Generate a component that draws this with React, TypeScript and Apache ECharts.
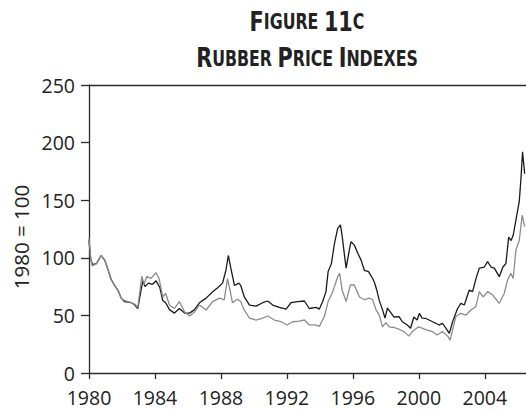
import React, { useEffect, useRef } from "react";
import * as echarts from "echarts";

const xTickYears = [1980, 1984, 1988, 1992, 1996, 2000, 2004];
const yTicks = [0, 50, 100, 150, 200, 250];

const blackYears = [
  1980.0, 1980.1, 1980.2, 1980.45, 1980.74, 1980.95, 1981.1, 1981.35, 1981.55, 1981.75,
  1981.95, 1982.15, 1982.55, 1982.75, 1982.96, 1983.26, 1983.4, 1983.6, 1983.85, 1984.07,
  1984.3, 1984.47, 1984.65, 1984.88, 1985.18, 1985.48, 1985.8, 1986.1, 1986.4, 1986.7,
  1987.1, 1987.5, 1987.8, 1988.1, 1988.3, 1988.45, 1988.6, 1988.82, 1989.08, 1989.2,
  1989.42, 1989.73, 1990.13, 1990.53, 1990.84, 1991.14, 1991.55, 1991.95, 1992.25, 1992.65,
  1993.06, 1993.36, 1993.77, 1993.97, 1994.17, 1994.37, 1994.5, 1994.7, 1994.88, 1995.08,
  1995.25, 1995.35, 1995.59, 1995.79, 1995.89, 1996.09, 1996.3, 1996.5, 1996.7, 1996.95,
  1997.2, 1997.3, 1997.45, 1997.6, 1997.8, 1997.95, 1998.1, 1998.3, 1998.5, 1998.8, 1999.0,
  1999.3, 1999.5, 1999.7, 1999.9, 2000.03, 2000.2, 2000.4, 2000.84, 2001.24, 2001.44,
  2001.65, 2001.85, 2002.05, 2002.35, 2002.55, 2002.76, 2003.06, 2003.26, 2003.5, 2003.67,
  2003.97, 2004.17, 2004.38, 2004.58, 2004.88, 2005.1, 2005.28, 2005.45, 2005.6, 2005.73,
  2005.89, 2006.09, 2006.2, 2006.29, 2006.42,
];
const blackValues = [
  115, 100, 94, 95, 102, 98, 92, 81, 76, 72,
  65, 62, 61, 59.5, 56, 80, 75, 78, 77, 80,
  74, 63, 61, 55, 52, 56, 52, 52, 55, 61,
  65, 70.6, 74, 78, 89, 102, 91, 76, 78, 76,
  66, 59, 58, 61, 62.5, 59, 57, 55.5, 61, 62,
  62.5, 56, 57, 55.5, 62, 70.6, 88, 95, 112, 125.6,
  128.5, 119, 91, 107, 114, 111, 104, 98, 89, 88,
  82, 79, 72, 63, 55, 47.6, 56.4, 52.5, 48.6, 49, 44.5,
  41.7, 38.8, 48.6, 46, 51.8, 47.6, 47.5, 44.5, 41.7, 43,
  38.8, 34.4, 44.5, 56, 60.5, 59, 72, 70.6, 83.6, 91,
  92, 96.6, 92, 91, 83.6, 92, 95, 118, 115, 120,
  133, 148.7, 170, 192, 173,
];

const grayYears = [
  1980.0, 1980.1, 1980.2, 1980.45, 1980.74, 1980.95, 1981.1, 1981.35, 1981.55, 1981.75,
  1981.95, 1982.15, 1982.55, 1982.75, 1982.96, 1983.2, 1983.35, 1983.5, 1983.75, 1984.07,
  1984.25, 1984.47, 1984.65, 1984.88, 1985.18, 1985.48, 1985.8, 1986.1, 1986.4, 1986.7,
  1987.1, 1987.5, 1987.9, 1988.2, 1988.4, 1988.55, 1988.7, 1989.0, 1989.2, 1989.4,
  1989.73, 1990.13, 1990.53, 1990.84, 1991.24, 1991.65, 1992.0, 1992.35, 1992.75, 1993.06,
  1993.36, 1993.7, 1993.97, 1994.27, 1994.5, 1994.78, 1995.08, 1995.2, 1995.35, 1995.59,
  1995.85, 1996.09, 1996.4, 1996.7, 1997.0, 1997.2, 1997.4, 1997.6, 1997.8, 1998.0,
  1998.2, 1998.5, 1998.8, 1999.1, 1999.4, 1999.6, 1999.97, 2000.2, 2000.4, 2000.84,
  2001.1, 2001.44, 2001.75, 2001.9, 2002.05, 2002.25, 2002.55, 2002.86, 2003.16, 2003.46,
  2003.67, 2003.9, 2004.17, 2004.48, 2004.88, 2005.18, 2005.38, 2005.58, 2005.72, 2005.89,
  2006.09, 2006.27, 2006.42,
];
const grayValues = [
  117, 100, 93, 95, 102, 98, 92, 81, 76, 72,
  65, 63, 61, 60, 57, 84, 77, 84, 82, 87,
  82, 66, 69, 59, 56, 62, 53, 49.5, 53, 59,
  54.7, 62, 65, 63.5, 82, 72, 61, 64, 62, 55,
  47.6, 46, 47.6, 49.5, 46, 44.5, 41.7, 44.5, 45, 46,
  41.7, 41.7, 40.5, 49, 62, 70.6, 83.6, 86.5, 72, 62,
  76.4, 76.4, 66, 63.6, 65, 63.6, 55, 50.3, 40, 43.7,
  40, 39.5, 38, 35.9, 32, 36, 40, 39, 37.7, 35.9,
  33, 35.9, 32, 28.6, 37.7, 49, 51.8, 50.3, 54.7, 57.6,
  70.6, 66, 70.6, 67.7, 60.5, 69, 80.7, 86.5, 82, 106.8,
  115, 137, 127,
];

const titleLine1 = "{b|F}{s|IGURE }{b|11}{s|C}";
const titleLine2 = "{b|R}{s|UBBER }{b|P}{s|RICE }{b|I}{s|NDEXES}";
const yAxisTitle = "1980 = 100";

const X_MIN = 1980;
const X_MAX = 2006.5;

export default function App() {
  const ref = useRef<HTMLDivElement>(null);
  useEffect(() => {
    if (!ref.current) return;
    const chart = echarts.init(ref.current, null, { renderer: "svg" });
    const labelFont = { fontFamily: "Open Sans", fontSize: 19.5, color: "#222" };
    const axisColor = "#2a2a2a";
    const titleRich = {
      b: { fontFamily: "DejaVu Sans", fontWeight: "bold", fontSize: 27, fill: "#222" },
      s: { fontFamily: "DejaVu Sans", fontWeight: "bold", fontSize: 20.5, fill: "#222" },
    };
    chart.setOption({
      animation: false,
      backgroundColor: "#fff",
      grid: { left: 89, right: 0, top: 85, bottom: 38, containLabel: false },
      xAxis: [
        {
          type: "value",
          min: X_MIN,
          max: X_MAX,
          interval: 4,
          axisLine: { show: true, onZero: false, lineStyle: { color: axisColor, width: 1.3 } },
          axisTick: { show: true, inside: false, length: 6, customValues: xTickYears, lineStyle: { color: axisColor, width: 1.3 } },
          axisLabel: { ...labelFont, margin: 14, customValues: xTickYears, formatter: (v: number) => String(v) },
          splitLine: { show: false },
        },
        {
          type: "value",
          position: "top",
          min: X_MIN,
          max: X_MAX,
          axisLine: { show: true, onZero: false, lineStyle: { color: axisColor, width: 1.3 } },
          axisTick: { show: false },
          axisLabel: { show: false },
          splitLine: { show: false },
        },
      ],
      yAxis: {
        type: "value",
        min: 0,
        max: 250,
        interval: 50,
        axisLine: { show: true, onZero: false, lineStyle: { color: axisColor, width: 1.3 } },
        axisTick: { show: true, inside: false, length: 8, lineStyle: { color: axisColor, width: 1.3 } },
        axisLabel: { ...labelFont, margin: 14, customValues: yTicks },
        splitLine: { show: false },
      },
      series: [
        {
          type: "line",
          name: "Black",
          showSymbol: false,
          data: blackYears.map((y, i) => [y, blackValues[i]]),
          lineStyle: { color: "#1a1a1a", width: 1.3 },
          itemStyle: { color: "#1a1a1a" },
        },
        {
          type: "line",
          name: "Gray",
          showSymbol: false,
          data: grayYears.map((y, i) => [y, grayValues[i]]),
          lineStyle: { color: "#8c8c8c", width: 1.3 },
          itemStyle: { color: "#8c8c8c" },
        },
      ],
      graphic: [
        {
          type: "text",
          x: 307,
          y: 22,
          scaleX: 0.77,
          style: { text: titleLine1, rich: titleRich, align: "center", verticalAlign: "middle" },
        },
        {
          type: "text",
          x: 307,
          y: 58.5,
          scaleX: 0.77,
          style: { text: titleLine2, rich: titleRich, align: "center", verticalAlign: "middle" },
        },
        {
          type: "text",
          x: 21,
          y: 237,
          rotation: Math.PI / 2,
          style: {
            text: yAxisTitle,
            fontFamily: "Open Sans",
            fontSize: 20.5,
            fill: "#222",
            align: "center",
            verticalAlign: "middle",
          },
        },
      ],
    });
    return () => chart.dispose();
  }, []);
  return <div ref={ref} style={{ width: 526, height: 411, position: "absolute", left: 0, top: 0 }} />;
}
